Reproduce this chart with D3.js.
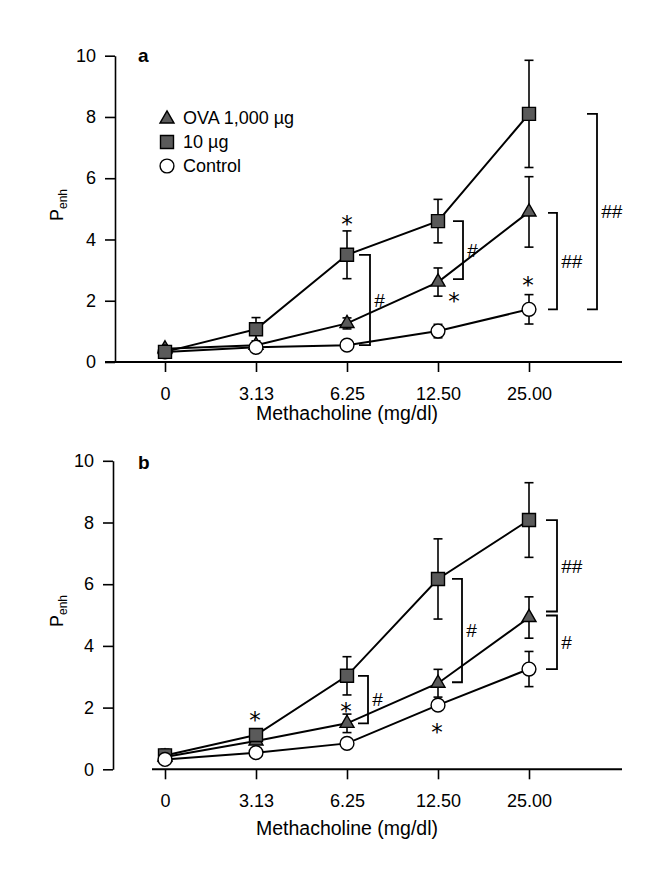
<!DOCTYPE html>
<html>
<head>
<meta charset="utf-8">
<script src="https://cdn.jsdelivr.net/npm/d3@7"></script>
<style>
  html, body { margin: 0; padding: 0; background: #fff; }
  svg { display: block; font-family: "Liberation Sans", Arial, Helvetica, sans-serif; }
</style>
</head>
<body>
<svg id="fig" width="655" height="878"></svg>
<script>
// Methacholine doses (x categories) and Penh ticks
const categories = ["0", "3.13", "6.25", "12.50", "25.00"];
const yTicks = [0, 2, 4, 6, 8, 10];
const legendLabels = ["OVA 1,000 \u00b5g", "10 \u00b5g", "Control"];

// Panel a: mean Penh and SEM per dose
const aOva1000 = [0.43, 0.55, 1.26, 2.61, 4.90];
const aOva1000Sem = [0.05, 0.08, 0.18, 0.46, 1.15];
const aOva10 = [0.33, 1.07, 3.50, 4.60, 8.10];
const aOva10Sem = [0.05, 0.38, 0.78, 0.71, 1.75];
const aControl = [0.33, 0.48, 0.55, 1.01, 1.72];
const aControlSem = [0.05, 0.08, 0.08, 0.22, 0.48];

// Panel b: mean Penh and SEM per dose
const bOva1000 = [0.40, 0.92, 1.49, 2.79, 4.92];
const bOva1000Sem = [0.05, 0.05, 0.30, 0.45, 0.67];
const bOva10 = [0.45, 1.11, 3.03, 6.17, 8.08];
const bOva10Sem = [0.20, 0.10, 0.62, 1.30, 1.21];
const bControl = [0.32, 0.54, 0.84, 2.08, 3.25];
const bControlSem = [0.05, 0.05, 0.12, 0.15, 0.57];

// Significance marks: brackets between groups, asterisks on single points
const aBrackets = [
  { cat: 2, top: "ova10", bottom: "control", label: "#" },
  { cat: 3, top: "ova10", bottom: "ova1000", label: "#" },
  { cat: 4, top: "ova1000", bottom: "control", label: "##" },
  { cat: 4, top: "ova10", bottom: "control", label: "##" }
];
const aStars = [
  { cat: 2, series: "ova10" },
  { cat: 3, series: "ova1000" },
  { cat: 4, series: "control" }
];
const bBrackets = [
  { cat: 2, top: "ova10", bottom: "ova1000", label: "#" },
  { cat: 3, top: "ova10", bottom: "ova1000", label: "#" },
  { cat: 4, top: "ova10", bottom: "ova1000", label: "##" },
  { cat: 4, top: "ova1000", bottom: "control", label: "#" }
];
const bStars = [
  { cat: 1, series: "ova10" },
  { cat: 2, series: "ova1000" },
  { cat: 3, series: "control" }
];

// ---- layout ----
const MARK_FILL = "#5a5a5a";
const symbolOf = {
  ova1000: d3.symbol().type(d3.symbolTriangle).size(85),
  ova10: d3.symbol().type(d3.symbolSquare).size(169),
  control: d3.symbol().type(d3.symbolCircle).size(150)
};
const fillOf = { ova1000: MARK_FILL, ova10: MARK_FILL, control: "#fff" };

const panels = [
  {
    letter: "a", y0: 362, y10: 55.7, axisX: 115, xLineStart: 105, xLineEnd: 622,
    titleY: 420, penhY: 205, letterY: 62,
    order: ["ova1000", "control", "ova10"],
    series: {
      ova1000: { m: aOva1000, e: aOva1000Sem },
      ova10: { m: aOva10, e: aOva10Sem },
      control: { m: aControl, e: aControlSem }
    },
    brackets: aBrackets,
    bracketPos: [
      { x1: 12, x2: 23, topAdj: 0, botAdj: 0 },
      { x1: 15, x2: 25, topAdj: 0, botAdj: -3 },
      { x1: 19, x2: 28, topAdj: 1, botAdj: 0 },
      { x1: 58, x2: 68, topAdj: 0, botAdj: 0 }
    ],
    stars: aStars,
    starPos: [ { dx: 0, dy: -35 }, { dx: 16, dy: 14 }, { dx: -1, dy: -29 } ],
    legend: true
  },
  {
    letter: "b", y0: 769.3, y10: 460.8, axisX: 113, xLineStart: 152, xLineEnd: 622,
    titleY: 835, penhY: 611, letterY: 469,
    order: ["ova1000", "ova10", "control"],
    series: {
      ova1000: { m: bOva1000, e: bOva1000Sem },
      ova10: { m: bOva10, e: bOva10Sem },
      control: { m: bControl, e: bControlSem }
    },
    brackets: bBrackets,
    bracketPos: [
      { x1: 11, x2: 21, topAdj: 0, botAdj: 0 },
      { x1: 14, x2: 24, topAdj: 0, botAdj: -1 },
      { x1: 17, x2: 28, topAdj: 0, botAdj: -6 },
      { x1: 17, x2: 28, topAdj: -2, botAdj: 0 }
    ],
    stars: bStars,
    starPos: [ { dx: -1, dy: -20 }, { dx: -1, dy: -17 }, { dx: -1, dy: 22 } ],
    legend: false
  }
];

const svg = d3.select("#fig");
const x = d3.scalePoint().domain(categories).range([165, 529]);

panels.forEach(p => {
  const g = svg.append("g").attr("class", "panel-" + p.letter).attr("fill", "#000");
  const y = d3.scaleLinear().domain([0, 10]).range([p.y0, p.y10]);

  // y axis
  const yAxis = g.append("g")
    .attr("transform", `translate(${p.axisX},0)`)
    .call(d3.axisLeft(y).tickValues(yTicks).tickFormat(d3.format("d"))
      .tickSize(10).tickPadding(9).tickSizeOuter(0));
  yAxis.selectAll("path, line").attr("stroke", "#000").attr("stroke-width", 1.6);
  yAxis.selectAll("text").attr("font-size", 18).attr("fill", "#000")
    .attr("font-family", "'Liberation Sans', Arial, sans-serif");

  // x axis: ticks from the point scale, baseline drawn across the plot
  const xAxis = g.append("g")
    .attr("transform", `translate(0,${p.y0})`)
    .call(d3.axisBottom(x).tickSize(10).tickPadding(15));
  xAxis.select(".domain").remove();
  xAxis.selectAll("line").attr("stroke", "#000").attr("stroke-width", 1.6);
  xAxis.selectAll("text").attr("font-size", 18).attr("fill", "#000")
    .attr("font-family", "'Liberation Sans', Arial, sans-serif");
  g.append("line")
    .attr("x1", p.xLineStart).attr("x2", p.xLineEnd)
    .attr("y1", y(0)).attr("y2", y(0))
    .attr("stroke", "#000").attr("stroke-width", 2);

  // axis titles
  g.append("text")
    .attr("x", 347).attr("y", p.titleY)
    .attr("text-anchor", "middle").attr("font-size", 19.5)
    .text("Methacholine (mg/dl)");
  const penh = g.append("text")
    .attr("transform", `translate(63,${p.penhY}) rotate(-90)`)
    .attr("text-anchor", "middle").attr("font-size", 18);
  penh.append("tspan").text("P");
  penh.append("tspan").attr("font-size", 12).attr("dy", 4).text("enh");

  // panel letter
  g.append("text")
    .attr("x", 138).attr("y", p.letterY)
    .attr("font-size", 19).attr("font-weight", "bold")
    .text(p.letter);

  // connecting lines
  const line = d3.line().x((d, i) => x(categories[i])).y(d => y(d));
  p.order.forEach(key => {
    g.append("path")
      .datum(p.series[key].m)
      .attr("d", line)
      .attr("fill", "none").attr("stroke", "#000").attr("stroke-width", 2);
  });

  // error bars
  p.order.forEach(key => {
    const s = p.series[key];
    const eb = g.append("g").attr("stroke", "#000").attr("stroke-width", 1.6);
    s.m.forEach((v, i) => {
      const cx = x(categories[i]);
      const hi = y(v + s.e[i]), lo = y(v - s.e[i]);
      eb.append("line").attr("x1", cx).attr("x2", cx).attr("y1", hi).attr("y2", lo);
      eb.append("line").attr("x1", cx - 4.5).attr("x2", cx + 4.5).attr("y1", hi).attr("y2", hi);
      eb.append("line").attr("x1", cx - 4.5).attr("x2", cx + 4.5).attr("y1", lo).attr("y2", lo);
    });
  });

  // markers
  p.order.forEach(key => {
    const s = p.series[key];
    g.append("g").selectAll("path")
      .data(s.m)
      .join("path")
      .attr("transform", (d, i) => `translate(${x(categories[i])},${y(d)})`)
      .attr("d", symbolOf[key])
      .attr("fill", fillOf[key])
      .attr("stroke", "#000").attr("stroke-width", 1.4);
  });

  // brackets with # labels
  p.brackets.forEach((b, k) => {
    const pos = p.bracketPos[k];
    const cx = x(categories[b.cat]);
    const yt = y(p.series[b.top].m[b.cat]) + pos.topAdj;
    const yb = y(p.series[b.bottom].m[b.cat]) + pos.botAdj;
    g.append("path")
      .attr("d", `M${cx + pos.x1},${yt}H${cx + pos.x2}V${yb}H${cx + pos.x1}`)
      .attr("fill", "none").attr("stroke", "#000").attr("stroke-width", 1.8);
    g.append("text")
      .attr("x", cx + pos.x2 + 4).attr("y", (yt + yb) / 2)
      .attr("dy", "0.36em").attr("font-size", 19).attr("fill", "#000")
      .attr("font-style", "italic")
      .text(b.label);
  });

  // asterisks
  p.stars.forEach((s, k) => {
    const pos = p.starPos[k];
    const cx = x(categories[s.cat]) + pos.dx;
    const cy = y(p.series[s.series].m[s.cat]) + pos.dy;
    g.append("text")
      .attr("x", cx).attr("y", cy).attr("dy", "0.55em")
      .attr("text-anchor", "middle").attr("font-size", 23)
      .attr("font-family", "'DejaVu Sans', sans-serif").attr("fill", "#000")
      .text("*");
  });

  // legend
  if (p.legend) {
    const keys = ["ova1000", "ova10", "control"];
    const lg = g.append("g");
    keys.forEach((key, i) => {
      const by = 124 + i * 24;
      lg.append("path")
        .attr("transform", `translate(167,${by - 6 + (key === "ova1000" ? 1 : 0)})`)
        .attr("d", symbolOf[key])
        .attr("fill", fillOf[key]).attr("stroke", "#000").attr("stroke-width", 1.4);
      lg.append("text")
        .attr("x", 183).attr("y", by).attr("font-size", 18)
        .text(legendLabels[i]);
    });
  }
});
</script>
</body>
</html>
